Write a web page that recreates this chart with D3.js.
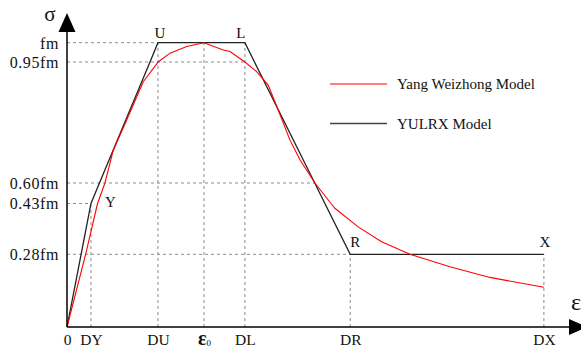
<!DOCTYPE html>
<html>
<head>
<meta charset="utf-8">
<script src="https://cdn.jsdelivr.net/npm/d3@7"></script>
<style>
  body { margin: 0; background: #fff; }
  svg text { font-family: "Liberation Serif", "DejaVu Serif", serif; fill: #111; }
</style>
</head>
<body>
<svg id="chart" width="581" height="349"></svg>
<script>
// strain in units of eps0, stress in units of fm
const strainTicks = [0, 0.175, 0.664, 1.0, 1.299, 2.068, 3.482];
const strainLabels = ['0', 'DY', 'DU', 'ε0', 'DL', 'DR', 'DX'];
const stressTicks = [0.28, 0.43, 0.60, 0.95, 1];
const stressLabels = ['0.28fm', '0.43fm', '0.60fm', '0.95fm', 'fm'];

// YULRX model (points read where it crosses the dashed levels too)
const yulrxStrain = [0, 0.103, 0.175, 0.237, 0.606, 0.664, 1.299, 1.369, 1.809, 1.883, 2.068, 3.482];
const yulrxStress = [0, 0.28, 0.43, 0.60, 0.95, 1, 1, 0.95, 0.60, 0.43, 0.28, 0.28];

// Yang Weizhong model
const yangStrain = [0, 0.136, 0.223, 0.277, 0.338, 0.436, 0.557, 0.666, 0.752, 0.874, 1.0,
  1.141, 1.190, 1.299, 1.385, 1.469, 1.542, 1.628, 1.701, 1.810, 1.928, 1.956, 2.126,
  2.297, 2.504, 2.796, 3.088, 3.482];
const yangStress = [0, 0.28, 0.43, 0.60, 0.695, 0.782, 0.893, 0.95, 0.973, 0.990, 1.0,
  0.981, 0.977, 0.95, 0.922, 0.883, 0.811, 0.724, 0.667, 0.60, 0.43, 0.416, 0.361,
  0.317, 0.28, 0.232, 0.191, 0.153];

// named points: label, strain, stress
const keyPoints = [
  { name: 'Y', e: 0.175, s: 0.43, dx: 14, dy: 3, anchor: 'start' },
  { name: 'U', e: 0.664, s: 1, dx: 2, dy: -5, anchor: 'middle' },
  { name: 'L', e: 1.299, s: 1, dx: -4, dy: -5, anchor: 'middle' },
  { name: 'R', e: 2.068, s: 0.28, dx: 0, dy: -7, anchor: 'start' },
  { name: 'X', e: 3.482, s: 0.28, dx: 1, dy: -7, anchor: 'middle' }
];

const svg = d3.select('#chart');

const x = d3.scaleLinear().domain([0, 3.68]).range([67, 571]);
// schematic stress axis: levels are not evenly spaced
const y = d3.scaleLinear()
  .domain([0, 0.28, 0.43, 0.60, 0.95, 1])
  .range([327, 254.3, 203.5, 183, 62, 42.7]);

const gridColor = '#8a8a8a';

// horizontal dashed guides, from axis to where the curve reaches that level
const hGuideEnd = [2.068, 0.175, 1.810, 1.299, 0.664];
svg.append('g')
  .selectAll('line')
  .data(stressTicks)
  .enter()
  .append('line')
  .attr('x1', x(0))
  .attr('x2', (d, i) => x(hGuideEnd[i]))
  .attr('y1', (d) => y(d))
  .attr('y2', (d) => y(d))
  .attr('stroke', gridColor)
  .attr('stroke-width', 1)
  .attr('stroke-dasharray', '3,3');

// vertical dashed guides, from axis up to the curve
const vGuideTop = [0, 0.43, 1, 1, 1, 0.28, 0.28];
svg.append('g')
  .selectAll('line')
  .data(strainTicks.slice(1))
  .enter()
  .append('line')
  .attr('x1', (d) => x(d))
  .attr('x2', (d) => x(d))
  .attr('y1', y(0))
  .attr('y2', (d, i) => y(vGuideTop[i + 1]))
  .attr('stroke', gridColor)
  .attr('stroke-width', 1)
  .attr('stroke-dasharray', '3,3');

const line = d3.line()
  .x((d) => x(d[0]))
  .y((d) => y(d[1]));

svg.append('path')
  .datum(yulrxStrain.map((e, i) => [e, yulrxStress[i]]))
  .attr('fill', 'none')
  .attr('stroke', '#222')
  .attr('stroke-width', 1.3)
  .attr('d', line);

svg.append('path')
  .datum(yangStrain.map((e, i) => [e, yangStress[i]]))
  .attr('fill', 'none')
  .attr('stroke', '#ff0000')
  .attr('stroke-width', 1.1)
  .attr('d', line);

// axes lines with arrows
svg.append('line')
  .attr('x1', x(0)).attr('x2', x(0))
  .attr('y1', y(0)).attr('y2', 30)
  .attr('stroke', '#000').attr('stroke-width', 1.5);
svg.append('path')
  .attr('d', `M${x(0)},13 L${x(0) - 8.5},32 L${x(0) + 8.5},32 Z`)
  .attr('fill', '#000');

svg.append('line')
  .attr('x1', x(0)).attr('x2', x.range()[1])
  .attr('y1', y(0)).attr('y2', y(0))
  .attr('stroke', '#000').attr('stroke-width', 1.5);
svg.append('path')
  .attr('d', `M${x.range()[1] - 2},${y(0) - 8} L${x.range()[1] + 16},${y(0)} L${x.range()[1] - 2},${y(0) + 8} Z`)
  .attr('fill', '#000');

// tick labels
const yAxis = svg.append('g')
  .attr('transform', `translate(${x(0)},0)`)
  .call(d3.axisLeft(y).tickValues(stressTicks).tickSize(0).tickPadding(8)
    .tickFormat((d, i) => stressLabels[i]));
yAxis.select('.domain').remove();
yAxis.selectAll('text')
  .style('font-size', '16px')
  .style('letter-spacing', '0.6px')
  .attr('fill', '#111')
  .attr('dy', '0.34em');

const xAxis = svg.append('g')
  .attr('transform', `translate(0,${y(0)})`)
  .call(d3.axisBottom(x).tickValues(strainTicks).tickSize(0).tickPadding(5)
    .tickFormat((d, i) => strainLabels[i]));
xAxis.select('.domain').remove();
xAxis.selectAll('text')
  .style('font-size', '15.5px')
  .attr('fill', '#111')
  .attr('dy', '0.85em');
// subscript for eps0
xAxis.selectAll('text')
  .filter((d, i) => strainLabels[i] === 'ε0')
  .text(null)
  .call((t) => {
    t.append('tspan').style('font-size', '20px').style('font-weight', 'bold').text('ε');
    t.append('tspan').style('font-size', '9px').attr('dy', '1px').text('0');
  });

// axis titles
svg.append('text')
  .attr('x', 50).attr('y', 21)
  .attr('text-anchor', 'middle')
  .style('font-size', '21px')
  .text('σ');
svg.append('text')
  .attr('x', 576).attr('y', 310)
  .attr('text-anchor', 'middle')
  .style('font-size', '24px')
  .text('ε');

// point labels
svg.append('g')
  .selectAll('text')
  .data(keyPoints)
  .enter()
  .append('text')
  .attr('x', (d) => x(d.e) + d.dx)
  .attr('y', (d) => y(d.s) + d.dy)
  .attr('text-anchor', (d) => d.anchor)
  .style('font-size', '15px')
  .text((d) => d.name);

// legend
const legendItems = [
  { label: 'Yang Weizhong Model', color: '#ff0000', width: 1.1 },
  { label: 'YULRX Model', color: '#444', width: 1.5 }
];
const legend = svg.append('g').attr('transform', 'translate(330,84)');
legendItems.forEach((item, i) => {
  const g = legend.append('g').attr('transform', `translate(0,${i * 39.5})`);
  g.append('line')
    .attr('x1', 0).attr('x2', 57)
    .attr('stroke', item.color)
    .attr('stroke-width', item.width);
  g.append('text')
    .attr('x', 67).attr('y', 5)
    .style('font-size', '15px')
    .text(item.label);
});
</script>
</body>
</html>
